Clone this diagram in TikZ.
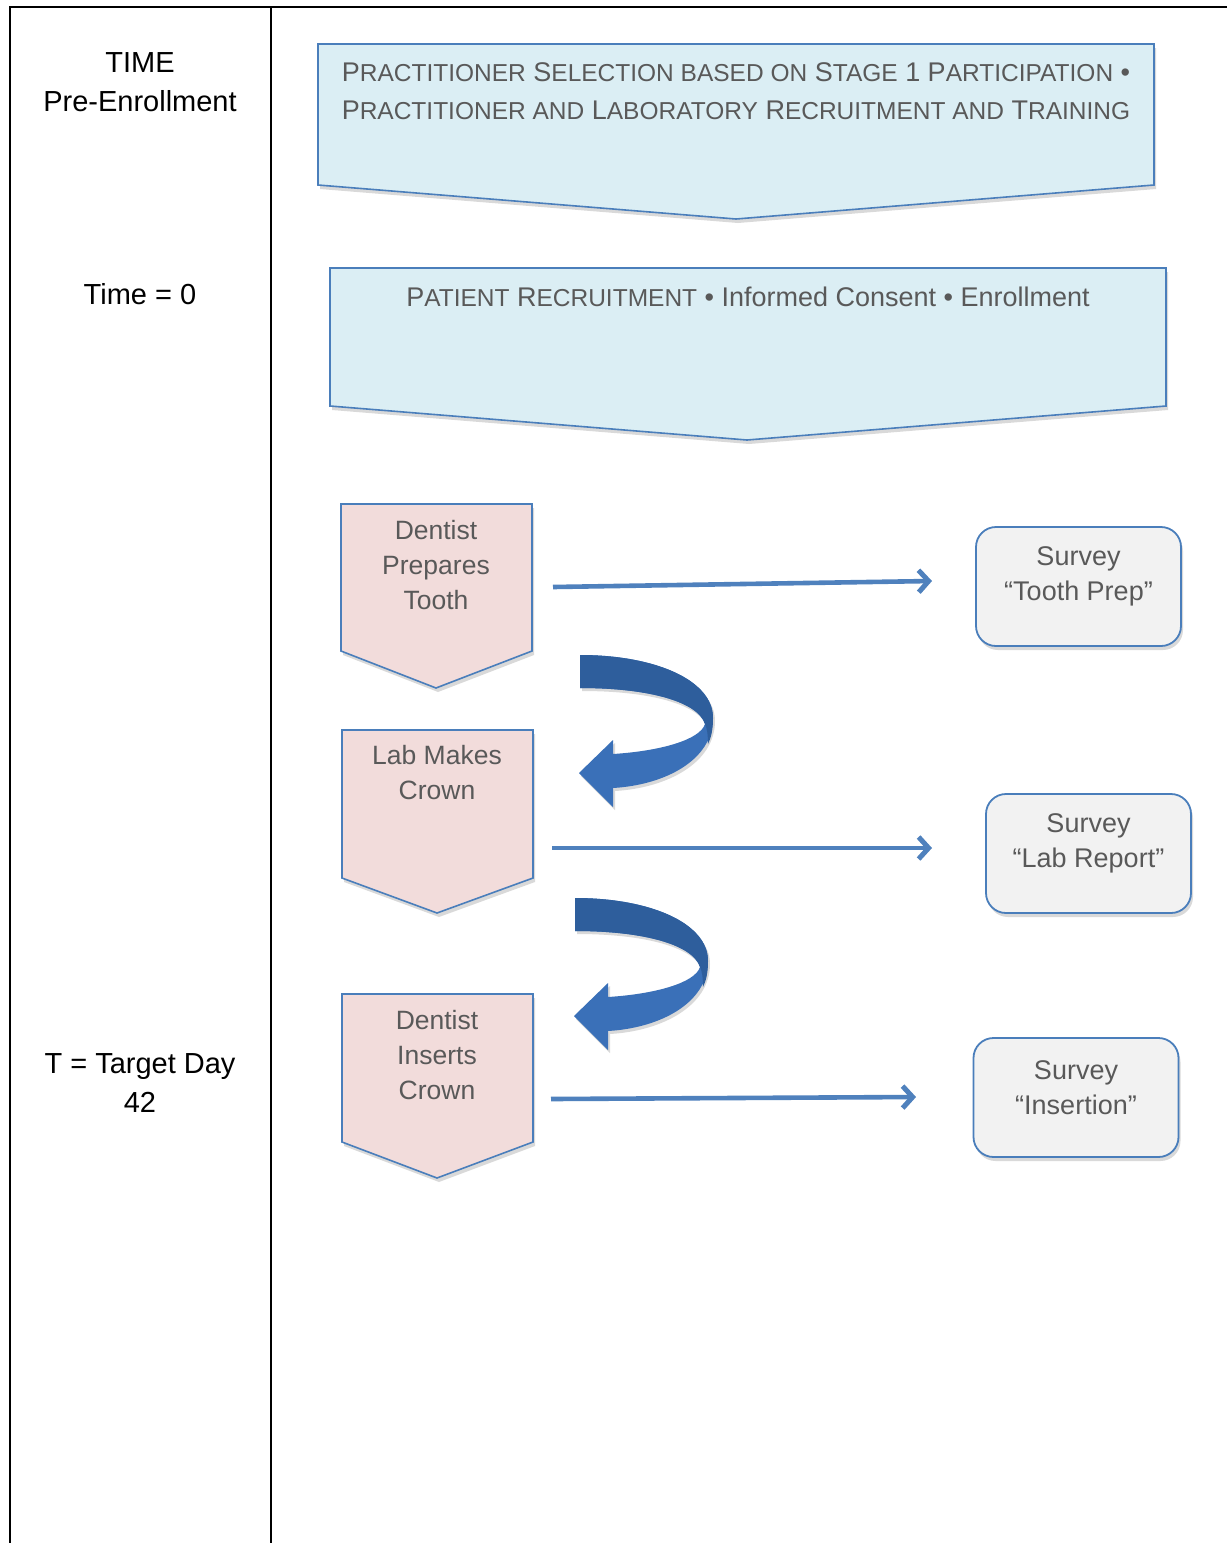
\documentclass[tikz,border=0pt]{standalone}
\usepackage{fontspec}
\setmainfont{Liberation Sans}
\usetikzlibrary{arrows.meta,shadows}
\definecolor{bord}{HTML}{4A7EBB}
\definecolor{bluefill}{HTML}{DBEEF4}
\definecolor{pinkfill}{HTML}{F2DCDB}
\definecolor{greyfill}{HTML}{F2F2F2}
\definecolor{txt}{HTML}{595959}
\definecolor{arrblue}{HTML}{4F81BD}
\definecolor{curvedark}{HTML}{2E5E9C}
\definecolor{curvelight}{HTML}{3A70B8}
\newcommand\smc[1]{{\fontsize{24.5pt}{24.5pt}\selectfont #1}}
\begin{document}
\begin{tikzpicture}[x=1pt,y=-1pt,
  shadowed/.style={drop shadow={shadow xshift=2pt,shadow yshift=-4pt,opacity=0.15,fill=black}},
  banner/.style={draw=bord,line width=1.6pt,fill=bluefill,shadowed},
  penta/.style={draw=bord,line width=1.6pt,fill=pinkfill,shadowed},
  survey/.style={draw=bord,line width=1.8pt,fill=greyfill,rounded corners=20pt,shadowed,minimum width=205pt,minimum height=119pt},
  boxtext/.style={text=txt,align=center,font=\fontsize{26.5pt}{35pt}\selectfont,inner sep=0pt},
  survtext/.style={text=txt,align=center,font=\fontsize{27pt}{35pt}\selectfont,inner sep=0pt},
  bantext/.style={text=txt,align=center,font=\fontsize{27pt}{38pt}\selectfont,inner sep=0pt},
  lefttext/.style={text=black,align=center,font=\fontsize{29pt}{39pt}\selectfont,inner sep=0pt},
  conn/.style={draw=arrblue,line width=4.6pt,-{Straight Barb[length=10pt,width=22pt,line width=5pt]}},
  rule/.style={line width=2.6pt,black}]
\useasboundingbox (0,0) rectangle (1227,1543);
\fill[white] (0,0) rectangle (1227,1543);
% table
\draw[rule] (10,1543) -- (10,7) -- (1227,7);
\draw[rule] (271,7) -- (271,1543);
% left column
\node[lefttext] (tlab1) at (140,82) {TIME\\Pre-Enrollment};
\node[lefttext] (tlab2) at (140,294) {Time = 0};
\node[lefttext] (tlab3) at (140,1083) {T = Target Day\\42};
% banners
\path[banner] (318,44) -- (1154,44) -- (1154,185) -- (736,219) -- (318,185) -- cycle;
\node[bantext] (ban1) at (736,91) {P\smc{RACTITIONER} S\smc{ELECTION BASED ON} S\smc{TAGE} 1 P\smc{ARTICIPATION} \textbullet\\P\smc{RACTITIONER AND} L\smc{ABORATORY} R\smc{ECRUITMENT AND} T\smc{RAINING}};
\path[banner] (330,268) -- (1166,268) -- (1166,406) -- (747,440) -- (330,406) -- cycle;
\node[bantext] (ban2) at (748,297) {P\smc{ATIENT} R\smc{ECRUITMENT} \textbullet{} Informed Consent \textbullet{} Enrollment};
% pentagons
\path[penta] (341,504) -- (532,504) -- (532,651) -- (436,688) -- (341,651) -- cycle;
\node[boxtext] (step1) at (436,565) {Dentist\\Prepares\\Tooth};
\path[penta] (342,730) -- (533,730) -- (533,878) -- (437,913) -- (342,878) -- cycle;
\node[boxtext] (step2) at (437,773) {Lab Makes\\Crown};
\path[penta] (342,994) -- (533,994) -- (533,1142) -- (437,1178) -- (342,1142) -- cycle;
\node[boxtext] (step3) at (437,1055) {Dentist\\Inserts\\Crown};
% surveys
\node[survey] (s1) at (1078.5,586.5) {};
\node[survtext] (s1t) at (1078.5,576.5) {Survey\\“Tooth Prep”};
\node[survey] (s2) at (1088.5,853.5) {};
\node[survtext] (s2t) at (1088.5,843) {Survey\\“Lab Report”};
\node[survey] (s3) at (1076,1097.5) {};
\node[survtext] (s3t) at (1076,1087.5) {Survey\\“Insertion”};
% connectors
\coordinate (a1s) at (553,587); \coordinate (a1e) at (932,581);
\coordinate (a2s) at (552,848); \coordinate (a2e) at (932,848);
\coordinate (a3s) at (551,1099); \coordinate (a3e) at (916,1097);
\draw[conn] (a1s) -- (a1e);
\draw[conn] (a2s) -- (a2e);
\draw[conn] (a3s) -- (a3e);
% curved arrows
\foreach \dx/\dy in {0/0,-5/243}{
\begin{scope}[shift={(\dx,\dy)}]
\fill[curvelight,drop shadow={shadow xshift=2pt,shadow yshift=-3pt,opacity=0.15,fill=black}]
  (580,655) .. controls (655,655) and (713,680) .. (713,718)
  .. controls (713,760) and (665,785) .. (613,788) -- (613,807) -- (579,773) -- (613,740) -- (613,754)
  .. controls (660,751) and (700,740) .. (705,724)
  .. controls (698,702) and (650,688) .. (580,688) -- cycle;
\fill[curvedark]
  (580,655) .. controls (655,655) and (713,680) .. (713,718)
  .. controls (713,730) and (711,738) .. (708,744)
  .. controls (708,735) and (707,728) .. (705,724)
  .. controls (698,702) and (650,688) .. (580,688) -- cycle;
\end{scope}}
\end{tikzpicture}
\end{document}
